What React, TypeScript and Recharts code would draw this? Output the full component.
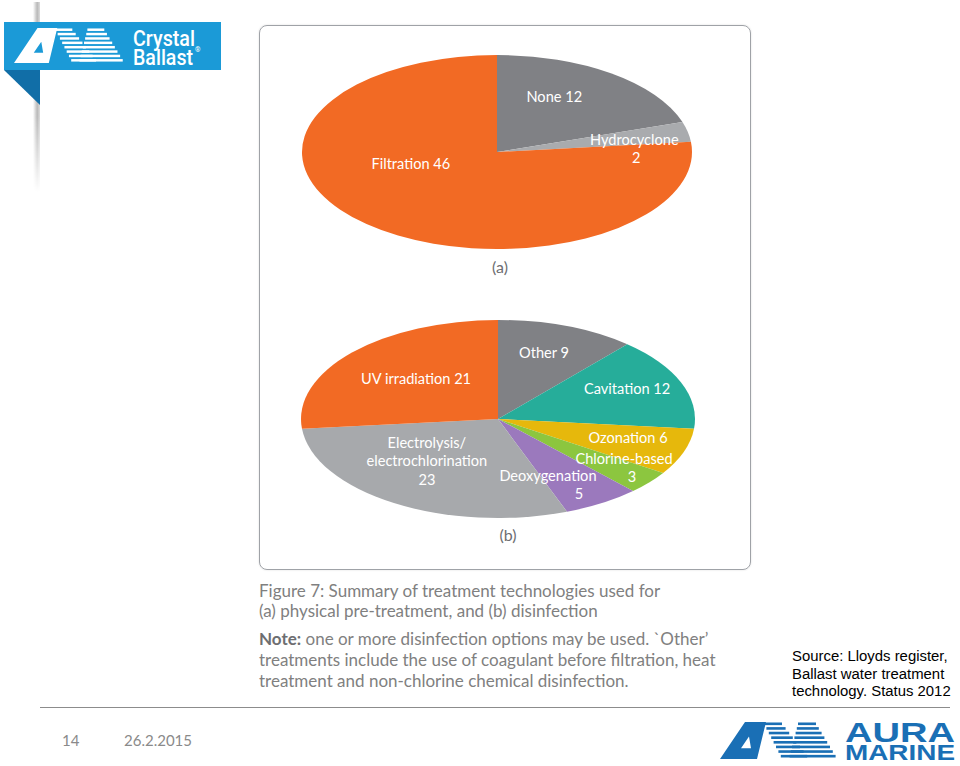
import React from "react";
import { PieChart, Pie, Cell } from "recharts";

// (a) physical pre-treatment
const preNames = ["None", "Hydrocyclone", "Filtration"];
const preCounts = [12, 2, 46];
const preColors = ["#808185", "#a9abae", "#f26a24"];

// (b) disinfection
const disNames = [
  "Other",
  "Cavitation",
  "Ozonation",
  "Chlorine-based",
  "Deoxygenation",
  "Electrolysis/\nelectrochlorination",
  "UV irradiation",
];
const disCounts = [9, 12, 6, 3, 5, 23, 21];
const disColors = ["#808185", "#26ad9a", "#e6b80c", "#8cc63f", "#9b79bd", "#a7a9ac", "#f26a24"];

// label placement: fraction of the radii along each slice's mid angle
const preLabelPos = [
  { fx: 0.5, fy: 0.71, stacked: false, dx2: 0 },
  { fx: 0.72, fy: 0.2, stacked: true, dx2: 2 },
  { fx: 0.66, fy: 0.15, stacked: false, dx2: 0 },
];
const disLabelPos = [
  { fx: 0.667, fy: 0.722, stacked: false, dx2: 0 },
  { fx: 0.705, fy: 0.846, stacked: false, dx2: 0 },
  { fx: 0.7, fy: 0.548, stacked: false, dx2: 0 },
  { fx: 0.834, fy: 0.756, stacked: true, dx2: 8 },
  { fx: 0.48, fy: 0.773, stacked: true, dx2: 31 },
  { fx: 0.683, fy: 0.488, stacked: true, dx2: 0 },
  { fx: 0.561, fy: 0.617, stacked: false, dx2: 0 },
];

const RAD = Math.PI / 180;
const RATIO_A = 97 / 195;
const RATIO_B = 99 / 197;
const NO_MARGIN = { top: 0, right: 0, bottom: 0, left: 0 };

const ellipseSector = (ratio: number) => (props: any) => {
  const { cx, cy, outerRadius, startAngle, endAngle, fill } = props;
  const rx = outerRadius;
  const ry = outerRadius * ratio;
  const x1 = cx + rx * Math.cos(startAngle * RAD);
  const y1 = cy - ry * Math.sin(startAngle * RAD);
  const x2 = cx + rx * Math.cos(endAngle * RAD);
  const y2 = cy - ry * Math.sin(endAngle * RAD);
  const large = Math.abs(endAngle - startAngle) > 180 ? 1 : 0;
  const sweep = startAngle > endAngle ? 1 : 0;
  return (
    <path
      d={`M${cx},${cy} L${x1},${y1} A${rx},${ry} 0 ${large} ${sweep} ${x2},${y2} Z`}
      fill={fill}
      stroke="none"
    />
  );
};

const makeLabel = (names: string[], pos: any[], ratio: number) => (props: any) => {
  const { cx, cy, outerRadius, midAngle, index, value } = props;
  const p = pos[index];
  const x = cx + p.fx * outerRadius * Math.cos(midAngle * RAD);
  const y = cy - p.fy * outerRadius * ratio * Math.sin(midAngle * RAD);
  const nameLines = names[index].split("\n");
  const lines = p.stacked
    ? [...nameLines, String(value)]
    : [...nameLines.slice(0, -1), `${nameLines[nameLines.length - 1]} ${value}`];
  const lh = 18.5;
  const top = y - ((lines.length - 1) * lh) / 2;
  return (
    <text
      textAnchor="middle"
      dominantBaseline="central"
      fill="#ffffff"
      style={{ fontFamily: "Lato, 'Open Sans', sans-serif", fontSize: 14.6 }}
    >
      {lines.map((l, i) => (
        <tspan key={i} x={x + (i === lines.length - 1 && p.stacked ? p.dx2 : 0)} y={top + i * lh}>
          {l}
        </tspan>
      ))}
    </text>
  );
};

const preData = preNames.map((n, i) => ({ name: n, value: preCounts[i] }));
const disData = disNames.map((n, i) => ({ name: n, value: disCounts[i] }));

function AmMark({ color, w, h }: { color: string; w: number; h: number }) {
  const rows = [0, 1, 2, 3, 4, 5, 6, 7];
  return (
    <svg width={w} height={h} viewBox="0 0 118 38" preserveAspectRatio="none" style={{ display: "block" }}>
      <path
        d="M0,38 L25,0 L46,0 L37,38 Z M21,27 L29,15 L31,27 Z"
        fillRule="evenodd"
        fill={color}
      />
      {rows.map((i) => (
        <rect key={"l" + i} x={44 + i * 2.4} y={0.5 + i * 4.75} width={18 + i * 1.2} height={2.7} fill={color} />
      ))}
      {rows.map((i) => (
        <rect key={"r" + i} x={78 - i * 1.2} y={0.5 + i * 4.75} width={18 + i * 4} height={2.7} fill={color} />
      ))}
    </svg>
  );
}

export default function App() {
  const font = "Lato, 'Open Sans', sans-serif";
  return (
    <div
      style={{
        position: "absolute",
        left: 0,
        top: 0,
        width: 960,
        height: 766,
        overflow: "hidden",
        background: "#ffffff",
      }}
    >
      {/* left grey strip */}
      <div
        style={{
          position: "absolute",
          left: 33,
          top: 2,
          width: 7,
          height: 190,
          background: "linear-gradient(to right, #ffffff, #b9b9b9 60%, #dcdcdc)",
          maskImage: "linear-gradient(to bottom, #000 60%, transparent)",
          WebkitMaskImage: "linear-gradient(to bottom, #000 60%, transparent)",
        }}
      />
      {/* Crystal Ballast logo */}
      <div style={{ position: "absolute", left: 4, top: 22, width: 217, height: 48, background: "#1b9ad7" }} />
      <svg style={{ position: "absolute", left: 4, top: 70 }} width={37} height={36}>
        <polygon points="0,0 36,0 36,35" fill="#116ea7" />
      </svg>
      <div style={{ position: "absolute", left: 14, top: 28 }}>
        <AmMark color="#ffffff" w={111} h={35} />
      </div>
      <svg style={{ position: "absolute", left: 130, top: 24 }} width={80} height={46}>
        <text fill="#ffffff" style={{ fontFamily: "Roboto, 'Liberation Sans', sans-serif", fontWeight: 500, fontSize: 22 }}>
          <tspan x={3} y={22} textLength={62} lengthAdjust="spacingAndGlyphs">
            Crystal
          </tspan>
          <tspan x={3} y={41} textLength={60} lengthAdjust="spacingAndGlyphs">
            Ballast
          </tspan>
          <tspan x={65} y={28} style={{ fontSize: 7 }}>
            ®
          </tspan>
        </text>
      </svg>

      {/* figure frame */}
      <div
        style={{
          position: "absolute",
          left: 259,
          top: 25,
          width: 490,
          height: 543,
          border: "1.5px solid #9fa2a7",
          borderRadius: 8,
          boxShadow: "0 0 2px rgba(0,0,0,0.15)",
        }}
      />

      <div style={{ position: "absolute", left: 297, top: 47 }}>
        <PieChart width={400} height={212} margin={NO_MARGIN}>
          <Pie
            data={preData}
            dataKey="value"
            nameKey="name"
            cx={200}
            cy={105}
            outerRadius={195}
            startAngle={90}
            endAngle={-270}
            stroke="none"
            shape={ellipseSector(RATIO_A)}
            label={makeLabel(preNames, preLabelPos, RATIO_A)}
            labelLine={false}
            isAnimationActive={false}
          >
            {preData.map((d, i) => (
              <Cell key={d.name} fill={preColors[i]} />
            ))}
          </Pie>
        </PieChart>
      </div>
      <div style={{ position: "absolute", left: 0, top: 257, width: 1000, textAlign: "center", color: "#6d6e71", fontFamily: font, fontSize: 16 }}>
        (a)
      </div>

      <div style={{ position: "absolute", left: 298, top: 313 }}>
        <PieChart width={400} height={212} margin={NO_MARGIN}>
          <Pie
            data={disData}
            dataKey="value"
            nameKey="name"
            cx={200}
            cy={106}
            outerRadius={197}
            startAngle={90}
            endAngle={-270}
            stroke="none"
            shape={ellipseSector(RATIO_B)}
            label={makeLabel(disNames, disLabelPos, RATIO_B)}
            labelLine={false}
            isAnimationActive={false}
          >
            {disData.map((d, i) => (
              <Cell key={d.name} fill={disColors[i]} />
            ))}
          </Pie>
        </PieChart>
      </div>
      <div style={{ position: "absolute", left: 0, top: 525, width: 1016, textAlign: "center", color: "#6d6e71", fontFamily: font, fontSize: 16 }}>
        (b)
      </div>

      {/* caption */}
      <div style={{ position: "absolute", left: 259, top: 581, fontFamily: font, fontSize: 17, lineHeight: "20px", color: "#808080" }}>
        Figure 7: Summary of treatment technologies used for
        <br />
        (a) physical pre-treatment, and (b) disinfection
      </div>
      <div style={{ position: "absolute", left: 259, top: 628, fontFamily: font, fontSize: 17, lineHeight: "21px", color: "#808080" }}>
        <b style={{ color: "#6d6e71" }}>Note:</b> one or more disinfection options may be used. `Other’
        <br />
        treatments include the use of coagulant before filtration, heat
        <br />
        treatment and non-chlorine chemical disinfection.
      </div>

      {/* source */}
      <div style={{ position: "absolute", left: 792, top: 648, fontFamily: "'Liberation Sans', Arial, sans-serif", fontSize: 14.9, lineHeight: "17.5px", color: "#000" }}>
        Source: Lloyds register,
        <br />
        Ballast water treatment
        <br />
        technology. Status 2012
      </div>

      {/* footer */}
      <div style={{ position: "absolute", left: 40, top: 707, width: 910, height: 1, background: "#8c8c8c" }} />
      <div style={{ position: "absolute", left: 62, top: 731, fontFamily: font, fontSize: 15, color: "#8a8a8a" }}>14</div>
      <div style={{ position: "absolute", left: 124, top: 731, fontFamily: font, fontSize: 15, color: "#8a8a8a" }}>26.2.2015</div>

      {/* Aura Marine logo */}
      <div style={{ position: "absolute", left: 720, top: 722 }}>
        <AmMark color="#1a6fb5" w={118} h={37} />
      </div>
      <svg style={{ position: "absolute", left: 842, top: 716 }} width={118} height={48}>
        <text fill="#1a6fb5" style={{ fontFamily: "'Liberation Sans', Arial, sans-serif", fontWeight: 900 }}>
          <tspan x={3} y={26} textLength={110} lengthAdjust="spacingAndGlyphs" style={{ fontSize: 28 }}>
            AURA
          </tspan>
          <tspan x={3} y={44} textLength={110} lengthAdjust="spacingAndGlyphs" style={{ fontSize: 22 }}>
            MARINE
          </tspan>
        </text>
      </svg>
    </div>
  );
}
